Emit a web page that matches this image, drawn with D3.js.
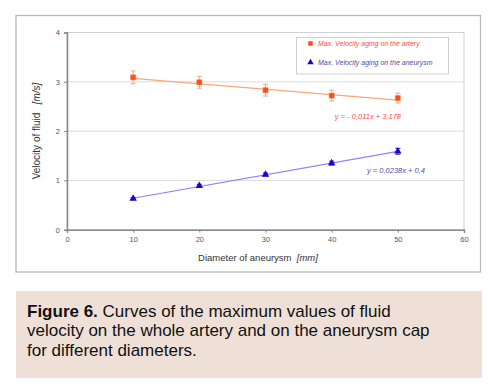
<!DOCTYPE html>
<html><head><meta charset="utf-8">
<script src="https://cdn.jsdelivr.net/npm/d3@7"></script>
<style>
body{margin:0;background:#fff;}
svg{display:block;}
text{white-space:pre;}
</style></head>
<body>
<svg id="c" width="488" height="387"></svg>
<script>
const diameters = [10, 20, 30, 40, 50];
const arteryVel = [3.09, 2.99, 2.83, 2.72, 2.67];
const arteryErr = [0.13, 0.12, 0.12, 0.11, 0.10];
const aneurysmVel = [0.63, 0.89, 1.12, 1.35, 1.59];
const aneurysmErr = [0.02, 0.03, 0.03, 0.04, 0.06];
const arteryFit = {slope: -0.011, intercept: 3.178, label: "y = - 0,011x + 3,178"};
const aneurysmFit = {slope: 0.0238, intercept: 0.4, label: "y = 0,0238x + 0,4"};
const xTicks = [0, 10, 20, 30, 40, 50, 60];
const yTicks = [0, 1, 2, 3, 4];
const legendLabels = ["Max. Velocity aging on the artery", "Max. Velocity aging on the aneurysm"];

const svg = d3.select("#c");
const x = d3.scaleLinear().domain([0, 60]).range([67, 464]);
const y = d3.scaleLinear().domain([0, 4]).range([229.7, 32.5]);

// outer chart frame
svg.append("rect").attr("x", 16).attr("y", 15.5).attr("width", 464.5).attr("height", 256.5)
  .attr("fill", "#fff").attr("stroke", "#b8b8b8").attr("stroke-width", 1.3);

// plot area border
svg.append("rect").attr("x", x(0)).attr("y", y(4)).attr("width", x(60) - x(0)).attr("height", y(0) - y(4))
  .attr("fill", "none").attr("stroke", "#d0d0d0").attr("stroke-width", 1);

// gridlines
svg.append("g").selectAll("line").data(yTicks.filter(d => d > 0 && d < 4)).join("line")
  .attr("x1", x(0)).attr("x2", x(60)).attr("y1", d => y(d)).attr("y2", d => y(d))
  .attr("stroke", "#dcdcdc").attr("stroke-width", 1);

// axes
const xAxis = svg.append("g").attr("transform", `translate(0,${y(0)})`)
  .call(d3.axisBottom(x).tickValues(xTicks).tickFormat(d3.format("d")).tickSize(3).tickPadding(4));
const yAxis = svg.append("g").attr("transform", `translate(${x(0)},0)`)
  .call(d3.axisLeft(y).tickValues(yTicks).tickFormat(d3.format("d")).tickSize(3).tickPadding(4));
[xAxis, yAxis].forEach(a => {
  a.select(".domain").attr("stroke", "#888").attr("stroke-width", 1.5);
  a.selectAll(".tick line").attr("stroke", "#888");
  a.selectAll("text").attr("font-family", "Liberation Sans, Arial, sans-serif")
    .attr("font-size", 7.5).attr("fill", "#555");
});

// axis titles
const xt = svg.append("text").attr("x", 258).attr("y", 261).attr("text-anchor", "middle")
  .attr("font-family", "Liberation Sans, Arial, sans-serif").attr("font-size", 9.5).attr("fill", "#333");
xt.append("tspan").text("Diameter of aneurysm  ");
xt.append("tspan").attr("font-style", "italic").text("[mm]");
const yt = svg.append("text").attr("transform", "translate(40,131) rotate(-90)").attr("text-anchor", "middle")
  .attr("font-family", "Liberation Sans, Arial, sans-serif").attr("font-size", 10).attr("fill", "#333");
yt.append("tspan").text("Velocity of fluid   ");
yt.append("tspan").attr("font-style", "italic").text("[m/s]");

// trend lines
function fitLine(fit, color) {
  svg.append("line")
    .attr("x1", x(diameters[0])).attr("y1", y(fit.slope * diameters[0] + fit.intercept))
    .attr("x2", x(diameters[diameters.length - 1])).attr("y2", y(fit.slope * diameters[diameters.length - 1] + fit.intercept))
    .attr("stroke", color).attr("stroke-width", 1.2);
}
fitLine(arteryFit, "#f7a87a");
fitLine(aneurysmFit, "#8c80ff");

// error bars
function errBars(vals, errs, color) {
  const g = svg.append("g").attr("stroke", color).attr("stroke-width", 0.9);
  diameters.forEach((d, i) => {
    const cx = x(d);
    g.append("line").attr("x1", cx).attr("x2", cx).attr("y1", y(vals[i] + errs[i])).attr("y2", y(vals[i] - errs[i]));
    g.append("line").attr("x1", cx - 2.5).attr("x2", cx + 2.5).attr("y1", y(vals[i] + errs[i])).attr("y2", y(vals[i] + errs[i]));
    g.append("line").attr("x1", cx - 2.5).attr("x2", cx + 2.5).attr("y1", y(vals[i] - errs[i])).attr("y2", y(vals[i] - errs[i]));
  });
}
errBars(arteryVel, arteryErr, "#f5a070");
errBars(aneurysmVel, aneurysmErr, "#2a10c8");

// markers
const sq = d3.symbol().type(d3.symbolSquare).size(26);
const tri = d3.symbol().type(d3.symbolTriangle).size(24);
svg.append("g").selectAll("path").data(diameters).join("path")
  .attr("transform", (d, i) => `translate(${x(d)},${y(arteryVel[i])})`)
  .attr("d", sq).attr("fill", "#ff4a1a").attr("stroke", "#ff8040").attr("stroke-width", 0.6);
svg.append("g").selectAll("path").data(diameters).join("path")
  .attr("transform", (d, i) => `translate(${x(d)},${y(aneurysmVel[i])})`)
  .attr("d", tri).attr("fill", "#2200d0");

// equation labels
svg.append("text").attr("x", 401).attr("y", 119).attr("text-anchor", "end")
  .attr("font-family", "Liberation Sans, Arial, sans-serif").attr("font-style", "italic")
  .attr("font-size", 7.5).attr("fill", "#ff4d4d").text(arteryFit.label);
svg.append("text").attr("x", 425).attr("y", 173).attr("text-anchor", "end")
  .attr("font-family", "Liberation Sans, Arial, sans-serif").attr("font-style", "italic")
  .attr("font-size", 7.5).attr("fill", "#5048a8").text(aneurysmFit.label);

// legend
svg.append("rect").attr("x", 296.5).attr("y", 37.5).attr("width", 152).attr("height", 36.5)
  .attr("fill", "#fff").attr("stroke", "#d0d0d0").attr("stroke-width", 1);
svg.append("path").attr("transform", "translate(310.5,43.5)").attr("d", d3.symbol().type(d3.symbolSquare).size(20))
  .attr("fill", "#ff4a1a");
svg.append("path").attr("transform", "translate(310.5,62.5)").attr("d", d3.symbol().type(d3.symbolTriangle).size(18))
  .attr("fill", "#2200d0");
svg.append("text").attr("x", 318).attr("y", 46).attr("font-family", "Liberation Sans, Arial, sans-serif")
  .attr("font-style", "italic").attr("font-size", 7).attr("fill", "#ff4d4d").text(legendLabels[0]);
svg.append("text").attr("x", 318).attr("y", 65).attr("font-family", "Liberation Sans, Arial, sans-serif")
  .attr("font-style", "italic").attr("font-size", 7).attr("fill", "#5048a8").text(legendLabels[1]);

// caption box
svg.append("rect").attr("x", 16).attr("y", 291).attr("width", 466).attr("height", 87).attr("fill", "#eee0d6");
const capLines = [
  [{b: true, t: "Figure 6."}, {b: false, t: " Curves of the maximum values of fluid"}],
  [{b: false, t: "velocity on the whole artery and on the aneurysm cap"}],
  [{b: false, t: "for different diameters."}]
];
capLines.forEach((ln, i) => {
  const t = svg.append("text").attr("x", 27).attr("y", 316.5 + i * 19.5)
    .attr("font-family", "Liberation Sans, Arial, Helvetica, sans-serif").attr("font-size", 17).attr("fill", "#111");
  ln.forEach(s => t.append("tspan").attr("font-weight", s.b ? "bold" : "normal").text(s.t));
});
</script>
</body></html>
